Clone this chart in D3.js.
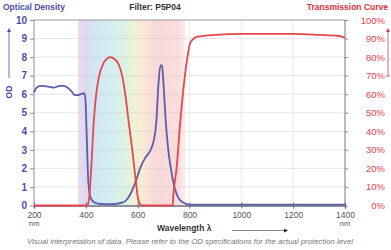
<!DOCTYPE html>
<html>
<head>
<meta charset="utf-8">
<script src="https://cdn.jsdelivr.net/npm/d3@7"></script>
<style>
  body { margin: 0; background: #fff; }
  svg { display: block; font-family: "Liberation Sans", Arial, sans-serif; }
</style>
</head>
<body>
<svg id="chart" width="391" height="250"></svg>
<script>
// optical density curve (nm, OD)
var odWl  = [200, 210, 225, 260, 275, 300, 315, 330, 345, 358, 368, 380, 392, 398, 404, 410, 419, 435, 460, 500, 540, 560, 575, 595, 612, 631, 650, 662, 672, 680, 688, 694, 700, 708, 718, 727, 737, 746, 760, 777, 800, 1000, 1200, 1400];
var odVal = [6.1, 6.35, 6.45, 6.4, 6.35, 6.45, 6.45, 6.35, 6.15, 5.95, 5.95, 6.0, 6.05, 5.8, 3.5, 1.2, 0.4, 0.15, 0.08, 0.07, 0.15, 0.35, 0.7, 1.4, 2.1, 2.6, 3.0, 3.5, 4.5, 6.5, 7.55, 7.55, 6.5, 4.6, 3.0, 2.1, 1.3, 0.8, 0.35, 0.15, 0.05, 0.05, 0.05, 0.05];

// transmission curve (nm, %)
var trWl  = [200, 405, 412, 420, 431, 440, 450, 469, 485, 496, 510, 527, 540, 554, 567, 581, 592, 600, 610, 615, 735, 738, 750, 765, 785, 804, 831, 900, 1000, 1200, 1300, 1370, 1400];
var trVal = [0, 0, 3, 18, 46, 60, 69, 77, 79.5, 80, 79, 76, 70, 58, 43, 28, 14, 5, 0.5, 0, 0, 6, 20, 46, 73, 88, 91, 92, 92.5, 92.5, 92, 91.5, 90.5];

var xTicks  = [200, 400, 600, 800, 1000, 1200, 1400];
var odTicks = [0, 1, 2, 3, 4, 5, 6, 7, 8, 9, 10];
var trTicks = [0, 10, 20, 30, 40, 50, 60, 70, 80, 90, 100];

var blue = "#5a5ea8", red = "#e8464f";
var svg = d3.select("#chart");

var x  = d3.scaleLinear().domain([200, 1400]).range([34, 345]);
var yO = d3.scaleLinear().domain([0, 10]).range([205.5, 20]);
var yT = d3.scaleLinear().domain([0, 100]).range([205.5, 20]);

// visible spectrum band
var grad = svg.append("defs").append("linearGradient").attr("id", "rainbow");
[[0, "#ebdcee"], [0.06, "#e2d8ef"], [0.12, "#d3e3f4"], [0.3, "#d3eef1"], [0.45, "#def2de"], [0.55, "#f5f3cf"], [0.62, "#fae6d6"], [0.72, "#f8d9da"], [0.93, "#f9dcdc"], [1, "#fdf0f0"]]
  .forEach(function(s) { grad.append("stop").attr("offset", s[0]).attr("stop-color", s[1]); });
svg.append("rect").attr("x", x(370)).attr("y", yO(10)).attr("width", x(785) - x(370)).attr("height", yO(0) - yO(10))
  .attr("fill", "url(#rainbow)");

// grid
svg.append("g").selectAll("line").data(odTicks.slice(1, 10)).join("line")
  .attr("x1", x(200)).attr("x2", x(1400)).attr("y1", function(d) { return yO(d); }).attr("y2", function(d) { return yO(d); })
  .attr("stroke", "#c8c8cc").attr("stroke-opacity", 0.6).attr("stroke-width", 0.7);
svg.append("g").selectAll("line").data(xTicks.slice(1, 6)).join("line")
  .attr("x1", function(d) { return x(d); }).attr("x2", function(d) { return x(d); }).attr("y1", yO(10)).attr("y2", yO(0))
  .attr("stroke", "#d2d2d8").attr("stroke-opacity", 0.6).attr("stroke-width", 0.7);

// frame
svg.append("line").attr("x1", x(200)).attr("x2", x(1400)).attr("y1", yO(10)).attr("y2", yO(10)).attr("stroke", "#9a9a9a").attr("stroke-width", 1.2);
svg.append("line").attr("x1", x(200)).attr("x2", x(200)).attr("y1", yO(10)).attr("y2", yO(0)).attr("stroke", "#a0a0a8").attr("stroke-width", 1.2);
svg.append("line").attr("x1", x(1400)).attr("x2", x(1400)).attr("y1", yO(10)).attr("y2", yO(0)).attr("stroke", "#8a8a98").attr("stroke-width", 1.2);

// axes
var gL = svg.append("g").attr("transform", "translate(" + x(200) + ",0)")
  .call(d3.axisLeft(yO).tickValues(odTicks).tickSize(4).tickPadding(3));
gL.select(".domain").remove();
gL.selectAll("line").attr("stroke", "#8888a8");
gL.selectAll("text").attr("fill", "#4a4fa6").attr("font-size", 10).attr("font-weight", "bold").attr("font-family", "Liberation Sans, Arial");

var gR = svg.append("g").attr("transform", "translate(" + x(1400) + ",0)")
  .call(d3.axisRight(yT).tickValues(trTicks).tickSize(3).tickPadding(3).tickFormat(function(d) { return d + "%"; }));
gR.select(".domain").remove();
gR.selectAll("line").attr("stroke", "#8888a8");
gR.selectAll("text").attr("fill", "#e8404a").attr("font-size", 9.5).attr("font-family", "Liberation Sans, Arial")
  .attr("text-anchor", "end").attr("x", 40);

var gB = svg.append("g").attr("transform", "translate(0," + yO(0) + ")")
  .call(d3.axisBottom(x).tickValues(xTicks).tickSize(3).tickPadding(3).tickFormat(d3.format("d")));
gB.select(".domain").attr("stroke", "#6a6a80").attr("stroke-width", 1.5);
gB.selectAll("line").attr("stroke", "#6a6a80").attr("y1", -3);
gB.selectAll("text").attr("fill", "#555").attr("font-size", 8.5).attr("font-family", "Liberation Sans, Arial");

// curves
var lineO = d3.line().x(function(d) { return x(d[0]); }).y(function(d) { return yO(d[1]); }).curve(d3.curveMonotoneX);
var lineT = d3.line().x(function(d) { return x(d[0]); }).y(function(d) { return yT(d[1]); }).curve(d3.curveMonotoneX);

svg.append("path").datum(d3.zip(odWl, odVal)).attr("d", lineO)
  .attr("fill", "none").attr("stroke", blue).attr("stroke-width", 1.8).attr("stroke-linejoin", "round");
svg.append("path").datum(d3.zip(trWl, trVal)).attr("d", lineT)
  .attr("fill", "none").attr("stroke", red).attr("stroke-width", 1.8).attr("stroke-linejoin", "round");

// titles
svg.append("text").attr("x", 3).attr("y", 10).text("Optical Density")
  .attr("fill", "#4a4fa6").attr("font-size", 8.5).attr("font-weight", "bold");
svg.append("text").attr("x", 155).attr("y", 10).attr("text-anchor", "middle").text("Filter: P5P04")
  .attr("fill", "#333").attr("font-size", 8.5).attr("font-weight", "bold");
svg.append("text").attr("x", 388).attr("y", 10).attr("text-anchor", "end").text("Transmission Curve")
  .attr("fill", "#e0303c").attr("font-size", 8.5).attr("font-weight", "bold");

// OD side label with arrow
var mk = svg.select("defs");
mk.append("marker").attr("id", "arrB").attr("viewBox", "0 0 6 6").attr("refX", 3).attr("refY", 3)
  .attr("markerWidth", 5).attr("markerHeight", 5).attr("orient", "auto")
  .append("path").attr("d", "M0,0L6,3L0,6Z").attr("fill", "#4a4fa6");
mk.append("marker").attr("id", "arrR").attr("viewBox", "0 0 6 6").attr("refX", 3).attr("refY", 3)
  .attr("markerWidth", 5).attr("markerHeight", 5).attr("orient", "auto")
  .append("path").attr("d", "M0,0L6,3L0,6Z").attr("fill", "#d04050");
mk.append("marker").attr("id", "arrK").attr("viewBox", "0 0 6 6").attr("refX", 3).attr("refY", 3)
  .attr("markerWidth", 5).attr("markerHeight", 5).attr("orient", "auto")
  .append("path").attr("d", "M0,0L6,3L0,6Z").attr("fill", "#222");

svg.append("line").attr("x1", 9).attr("x2", 9).attr("y1", 78).attr("y2", 30)
  .attr("stroke", "#4a4fa6").attr("stroke-width", 0.8).attr("marker-end", "url(#arrB)");
svg.append("text").attr("transform", "translate(12,92) rotate(-90)").attr("text-anchor", "middle").text("OD")
  .attr("fill", "#4a4fa6").attr("font-size", 8.5).attr("font-weight", "bold");

svg.append("line").attr("x1", 388).attr("x2", 388).attr("y1", 76).attr("y2", 30)
  .attr("stroke", "#d04050").attr("stroke-width", 0.8).attr("marker-end", "url(#arrR)");
svg.append("line").attr("x1", 386).attr("x2", 390).attr("y1", 76).attr("y2", 76).attr("stroke", "#d04050").attr("stroke-width", 0.8);

// unit labels
svg.append("text").attr("x", x(200)).attr("y", 226).attr("text-anchor", "middle").text("nm")
  .attr("fill", "#555").attr("font-size", 7.5);
svg.append("text").attr("x", x(1400)).attr("y", 226).attr("text-anchor", "middle").text("nm")
  .attr("fill", "#555").attr("font-size", 7.5);

svg.append("text").attr("x", 157).attr("y", 231).text("Wavelength λ")
  .attr("fill", "#333").attr("font-size", 8.5).attr("font-weight", "bold");
svg.append("line").attr("x1", 232).attr("x2", 286).attr("y1", 230.5).attr("y2", 230.5)
  .attr("stroke", "#666").attr("stroke-width", 0.8).attr("marker-end", "url(#arrK)");

svg.append("text").attr("x", 27).attr("y", 244).attr("textLength", 326).attr("lengthAdjust", "spacingAndGlyphs")
  .text("Visual interpretation of data. Please refer to the OD specifications for the actual protection level")
  .attr("fill", "#777").attr("font-size", 6.5).attr("font-style", "italic");
</script>
</body>
</html>
